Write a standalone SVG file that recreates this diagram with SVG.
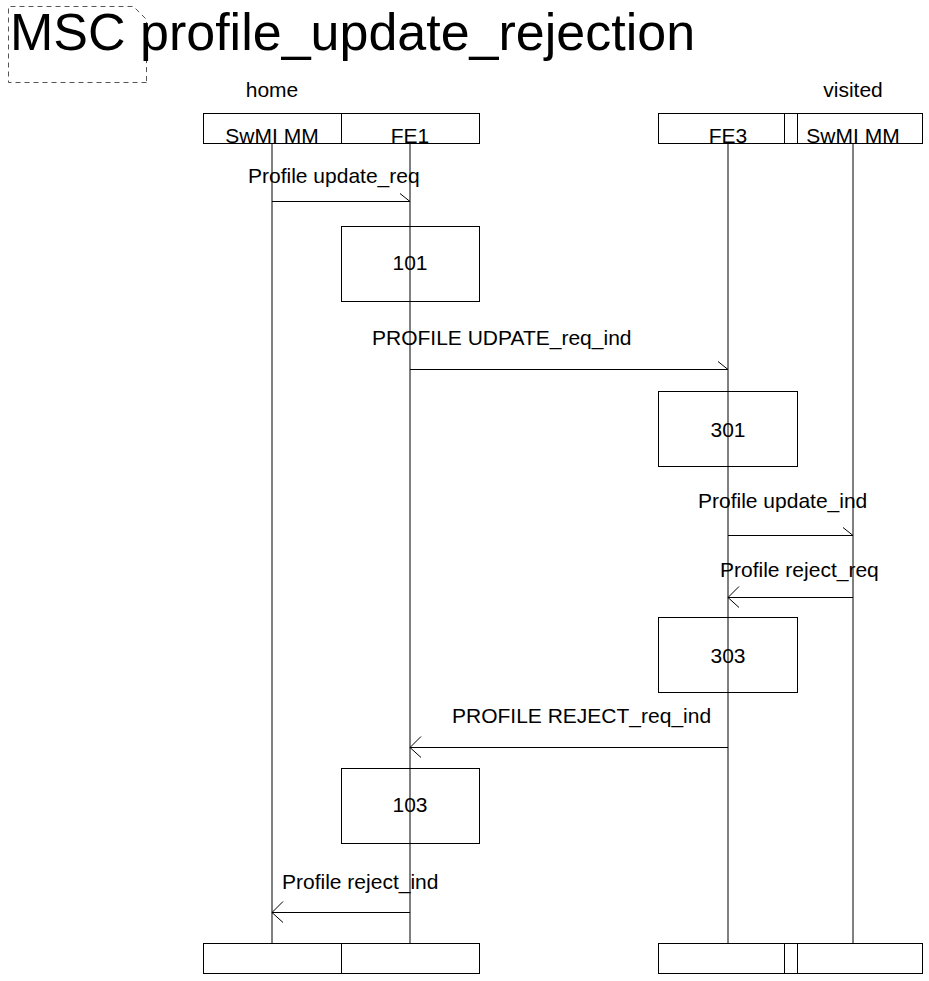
<svg xmlns="http://www.w3.org/2000/svg" width="929" height="981" viewBox="0 0 929 981">
<style>
text{font-family:"Liberation Sans",Arial,sans-serif;fill:#000}
.t{font-size:52px}
.l{font-size:21px}
.m{text-anchor:middle}
.box{fill:none;stroke:#000;stroke-width:1}
.life{stroke:#000;stroke-width:1}
.msg{stroke:#000;stroke-width:1;fill:none}
.frame{fill:none;stroke:#555;stroke-width:1;stroke-dasharray:5,4}
</style>
<rect width="929" height="981" fill="#fff"/>
<g id="title">
<path class="frame" d="M146.5,82.5 H8.5 V6.5 H133.5 L146.5,19.5 Z"/>
<text class="t" x="10" y="50">MSC profile_update_rejection</text>
</g>
<g id="labels">
<text class="l m" x="272" y="97">home</text>
<text class="l m" x="853" y="97">visited</text>
</g>
<g id="lifelines">
<line class="life" x1="272" y1="143" x2="272" y2="943"/>
<line class="life" x1="410" y1="143" x2="410" y2="943"/>
<line class="life" x1="728" y1="143" x2="728" y2="943"/>
<line class="life" x1="853" y1="143" x2="853" y2="943"/>
</g>
<g id="home-head">
<rect class="box" x="203.5" y="113.5" width="138" height="30"/>
<rect class="box" x="341.5" y="113.5" width="138" height="30"/>
<text class="l m" x="272" y="143">SwMI MM</text>
<text class="l m" x="410" y="143">FE1</text>
</g>
<g id="visited-head">
<rect class="box" x="658.5" y="113.5" width="126" height="30"/>
<rect class="box" x="784.5" y="113.5" width="13" height="30"/>
<rect class="box" x="797.5" y="113.5" width="125" height="30"/>
<text class="l m" x="728" y="143">FE3</text>
<text class="l m" x="853" y="143">SwMI MM</text>
</g>
<g id="home-foot">
<rect class="box" x="203.5" y="943.5" width="138" height="30"/>
<rect class="box" x="341.5" y="943.5" width="138" height="30"/>
</g>
<g id="visited-foot">
<rect class="box" x="658.5" y="943.5" width="126" height="30"/>
<rect class="box" x="784.5" y="943.5" width="13" height="30"/>
<rect class="box" x="797.5" y="943.5" width="125" height="30"/>
</g>
<g id="task101">
<rect class="box" x="341.5" y="226.5" width="138" height="75"/>
<text class="l m" x="410" y="270">101</text>
</g>
<g id="task301">
<rect class="box" x="658.5" y="391.5" width="139" height="75"/>
<text class="l m" x="728" y="437">301</text>
</g>
<g id="task303">
<rect class="box" x="658.5" y="617.5" width="139" height="75"/>
<text class="l m" x="728" y="663">303</text>
</g>
<g id="task103">
<rect class="box" x="341.5" y="768.5" width="138" height="75"/>
<text class="l m" x="410" y="812">103</text>
</g>
<g id="connectors">
<path class="msg" d="M272,201.5 H410 M400,193.5 L410,201.5"/>
<text class="l" x="248" y="183">Profile update_req</text>
<path class="msg" d="M410,369.5 H728 M718,361.5 L728,369.5"/>
<text class="l" x="372" y="345">PROFILE UDPATE_req_ind</text>
<path class="msg" d="M728,535.5 H853 M843,527.5 L853,535.5"/>
<text class="l" x="698" y="508">Profile update_ind</text>
<path class="msg" d="M853,597.5 H728 M739,586.5 L728,597.5 L739,607.5"/>
<text class="l" x="720" y="577">Profile reject_req</text>
<path class="msg" d="M728,747.5 H410 M421,736.5 L410,747.5 L421,757.5"/>
<text class="l" x="452" y="723">PROFILE REJECT_req_ind</text>
<path class="msg" d="M410,912.5 H272 M283,901.5 L272,912.5 L283,922.5"/>
<text class="l" x="282" y="889">Profile reject_ind</text>
</g>
</svg>
